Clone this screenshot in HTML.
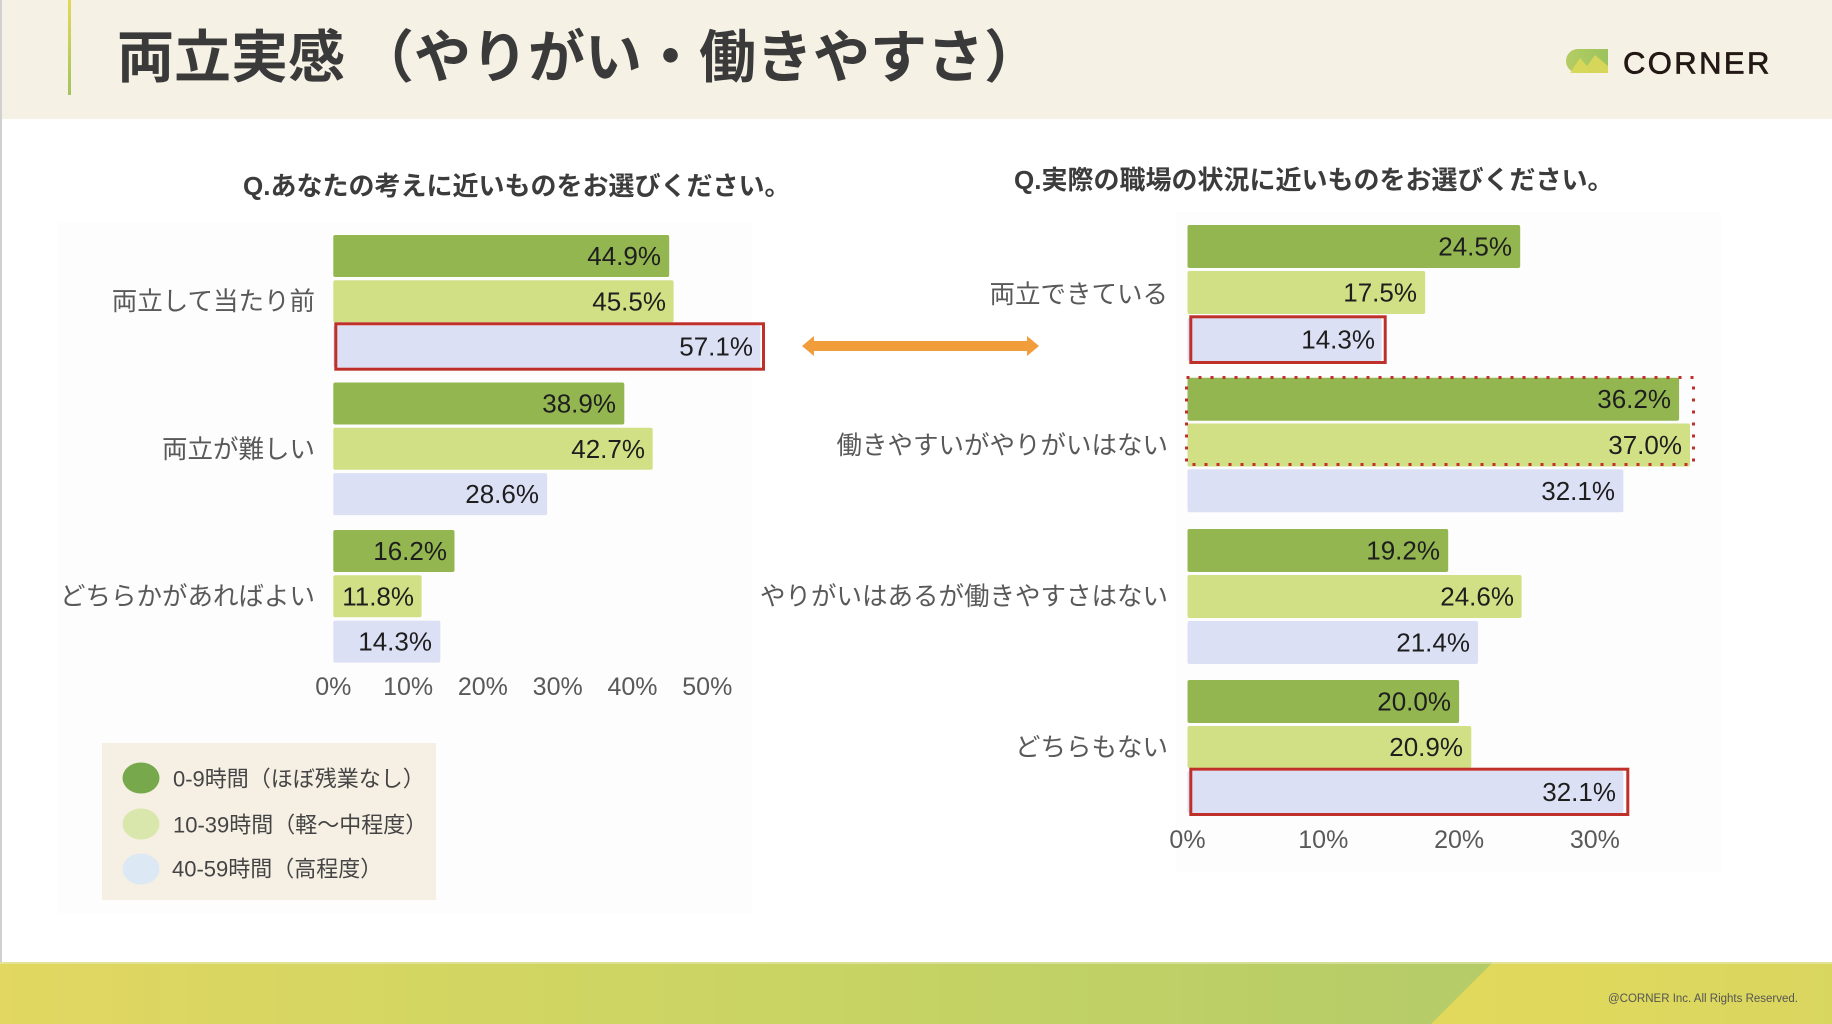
<!DOCTYPE html>
<html>
<head>
<meta charset="utf-8">
<style>
  html, body { margin:0; padding:0; background:#ffffff; }
  body { width:1832px; height:1024px; overflow:hidden; position:relative; }
  svg { position:absolute; left:0; top:0; }
  text { font-family: "Liberation Sans", "Noto Sans CJK JP", sans-serif; }
  .cat { font-size:25.5px; fill:#595959; }
  .val { font-size:26px; fill:#1e1e1e; }
  .tick { font-size:25px; fill:#595959; }
  .q { font-size:26px; font-weight:bold; fill:#3c3c3c; }
  .leg { font-size:22px; fill:#444444; }
</style>
</head>
<body>
<svg width="1832" height="1024" viewBox="0 0 1832 1024" xmlns="http://www.w3.org/2000/svg">
  <defs>
    <linearGradient id="vbar" x1="0" y1="0" x2="0" y2="1">
      <stop offset="0" stop-color="#e3d95a"/>
      <stop offset="1" stop-color="#a3c45e"/>
    </linearGradient>
    <linearGradient id="foot" x1="0" y1="0" x2="1" y2="0">
      <stop offset="0" stop-color="#e1d761"/>
      <stop offset="0.45" stop-color="#c8d463"/>
      <stop offset="1" stop-color="#aac76b"/>
    </linearGradient>
    <linearGradient id="foot2" x1="0" y1="0" x2="1" y2="0">
      <stop offset="0" stop-color="#e2d95c"/>
      <stop offset="1" stop-color="#d9d65f"/>
    </linearGradient>
    <linearGradient id="logo" x1="0" y1="0" x2="1" y2="0">
      <stop offset="0" stop-color="#b4cd62"/>
      <stop offset="1" stop-color="#9cc35e"/>
    </linearGradient>
  </defs>

  <!-- header -->
  <rect x="0" y="0" width="1832" height="119" fill="#f6f1e5"/>
  <rect x="68" y="0" width="3" height="95" fill="url(#vbar)"/>
  <text x="117" y="58" dominant-baseline="central" style="font-size:57px;font-weight:bold;fill:#3a3a3a;">両立実感<tspan dx="12">（やりがい・働きやすさ）</tspan></text>

  <!-- logo -->
  <path d="M1578 49 H1608 V73 H1578 A12 12 0 0 1 1566 61 A12 12 0 0 1 1578 49 Z" fill="url(#logo)"/>
  <path d="M1570 73 L1580 58 L1587 66 L1595 55 L1608 66 V73 Z" fill="#dcd85a" opacity="0.9"/>
  <text x="1623" y="73.3" style="font-size:31px;fill:#231815;letter-spacing:2.4px;stroke:#231815;stroke-width:0.7px;">CORNER</text>

  <!-- left page border -->
  <rect x="0" y="0" width="2" height="962" fill="#d0d0d0"/>

  <!-- chart backgrounds -->
  <rect x="57" y="223" width="695" height="690" fill="#fdfdfd"/>
  <rect x="1176" y="212" width="545" height="660" fill="#fdfdfd"/>

  <!-- LEFT CHART -->
  <text x="243" y="186" dominant-baseline="central" class="q">Q.あなたの考えに近いものをお選びください。</text>

  <text x="315" y="302" dominant-baseline="central" text-anchor="end" class="cat">両立して当たり前</text>
  <text x="315" y="450" dominant-baseline="central" text-anchor="end" class="cat">両立が難しい</text>
  <text x="315" y="597" dominant-baseline="central" text-anchor="end" class="cat">どちらかがあればよい</text>

  <!-- G1 -->
  <rect x="333.3" y="235" width="335.9" height="42" rx="2" fill="#93b650"/>
  <rect x="333.3" y="280.3" width="340.3" height="42" rx="2" fill="#d2e085"/>
  <rect x="333.3" y="325.6" width="427.1" height="42" rx="2" fill="#dce0f5"/>
  <rect x="335.8" y="323.8" width="427.7" height="45.4" fill="none" stroke="#c0302a" stroke-width="3"/>
  <text x="661" y="256" dominant-baseline="central" text-anchor="end" class="val">44.9%</text>
  <text x="666" y="301.3" dominant-baseline="central" text-anchor="end" class="val">45.5%</text>
  <text x="753" y="346.6" dominant-baseline="central" text-anchor="end" class="val">57.1%</text>
  <!-- G2 -->
  <rect x="333.3" y="382.5" width="291.0" height="42" rx="2" fill="#93b650"/>
  <rect x="333.3" y="427.8" width="319.4" height="42" rx="2" fill="#d2e085"/>
  <rect x="333.3" y="473.1" width="213.9" height="42" rx="2" fill="#dce0f5"/>
  <text x="616" y="403.5" dominant-baseline="central" text-anchor="end" class="val">38.9%</text>
  <text x="645" y="448.8" dominant-baseline="central" text-anchor="end" class="val">42.7%</text>
  <text x="539" y="494.1" dominant-baseline="central" text-anchor="end" class="val">28.6%</text>
  <!-- G3 -->
  <rect x="333.3" y="530" width="121.2" height="42" rx="2" fill="#93b650"/>
  <rect x="333.3" y="575.3" width="88.3" height="42" rx="2" fill="#d2e085"/>
  <rect x="333.3" y="620.6" width="107.0" height="42" rx="2" fill="#dce0f5"/>
  <text x="447" y="551" dominant-baseline="central" text-anchor="end" class="val">16.2%</text>
  <text x="414" y="596.3" dominant-baseline="central" text-anchor="end" class="val">11.8%</text>
  <text x="432" y="641.6" dominant-baseline="central" text-anchor="end" class="val">14.3%</text>

  <!-- left ticks -->
  <text x="333.3" y="687" dominant-baseline="central" text-anchor="middle" class="tick">0%</text>
  <text x="408.1" y="687" dominant-baseline="central" text-anchor="middle" class="tick">10%</text>
  <text x="482.9" y="687" dominant-baseline="central" text-anchor="middle" class="tick">20%</text>
  <text x="557.7" y="687" dominant-baseline="central" text-anchor="middle" class="tick">30%</text>
  <text x="632.5" y="687" dominant-baseline="central" text-anchor="middle" class="tick">40%</text>
  <text x="707.3" y="687" dominant-baseline="central" text-anchor="middle" class="tick">50%</text>

  <!-- legend -->
  <rect x="102" y="743" width="334" height="157" fill="#f6f0e4"/>
  <ellipse cx="141" cy="778" rx="18.5" ry="15.5" fill="#78a84c"/>
  <ellipse cx="141" cy="824" rx="18.5" ry="15.5" fill="#d9e6ac"/>
  <ellipse cx="141" cy="869" rx="18.5" ry="15.5" fill="#dce8f4"/>
  <text x="173" y="779" dominant-baseline="central" class="leg">0-9時間（ほぼ残業なし）</text>
  <text x="173" y="825" dominant-baseline="central" class="leg">10-39時間（軽～中程度）</text>
  <text x="172" y="869" dominant-baseline="central" class="leg">40-59時間（高程度）</text>

  <!-- arrow -->
  <rect x="812" y="341" width="217" height="10" fill="#f29d3c"/>
  <polygon points="802,346 814,336 814,356" fill="#f29d3c"/>
  <polygon points="1039,346 1027,336 1027,356" fill="#f29d3c"/>

  <!-- RIGHT CHART -->
  <text x="1014" y="180" dominant-baseline="central" class="q">Q.実際の職場の状況に近いものをお選びください。</text>

  <text x="1168" y="295" dominant-baseline="central" text-anchor="end" class="cat">両立できている</text>
  <text x="1168" y="446" dominant-baseline="central" text-anchor="end" class="cat">働きやすいがやりがいはない</text>
  <text x="1168" y="597" dominant-baseline="central" text-anchor="end" class="cat">やりがいはあるが働きやすさはない</text>
  <text x="1168" y="748" dominant-baseline="central" text-anchor="end" class="cat">どちらもない</text>

  <!-- G1 -->
  <rect x="1187.5" y="225" width="332.7" height="43" rx="2" fill="#93b650"/>
  <rect x="1187.5" y="271" width="237.7" height="43" rx="2" fill="#d2e085"/>
  <rect x="1187.5" y="318" width="194.2" height="43" rx="2" fill="#dce0f5"/>
  <rect x="1190.8" y="316.8" width="194.4" height="45.7" fill="none" stroke="#c0302a" stroke-width="3"/>
  <text x="1512" y="246.5" dominant-baseline="central" text-anchor="end" class="val">24.5%</text>
  <text x="1417" y="292.5" dominant-baseline="central" text-anchor="end" class="val">17.5%</text>
  <text x="1375" y="339.5" dominant-baseline="central" text-anchor="end" class="val">14.3%</text>
  <!-- G2 -->
  <rect x="1187.5" y="377.7" width="491.6" height="43" rx="2" fill="#93b650"/>
  <rect x="1187.5" y="423.5" width="502.5" height="43" rx="2" fill="#d2e085"/>
  <rect x="1187.5" y="469.3" width="435.9" height="43" rx="2" fill="#dce0f5"/>
  <rect x="1186.5" y="377.5" width="507" height="87" fill="none" stroke="#c0302a" stroke-width="3" stroke-dasharray="3,9"/>
  <text x="1671" y="399.2" dominant-baseline="central" text-anchor="end" class="val">36.2%</text>
  <text x="1682" y="445" dominant-baseline="central" text-anchor="end" class="val">37.0%</text>
  <text x="1615" y="490.8" dominant-baseline="central" text-anchor="end" class="val">32.1%</text>
  <!-- G3 -->
  <rect x="1187.5" y="529" width="260.7" height="43" rx="2" fill="#93b650"/>
  <rect x="1187.5" y="575" width="334.1" height="43" rx="2" fill="#d2e085"/>
  <rect x="1187.5" y="621" width="290.6" height="43" rx="2" fill="#dce0f5"/>
  <text x="1440" y="550.5" dominant-baseline="central" text-anchor="end" class="val">19.2%</text>
  <text x="1514" y="596.5" dominant-baseline="central" text-anchor="end" class="val">24.6%</text>
  <text x="1470" y="642.5" dominant-baseline="central" text-anchor="end" class="val">21.4%</text>
  <!-- G4 -->
  <rect x="1187.5" y="680" width="271.6" height="43" rx="2" fill="#93b650"/>
  <rect x="1187.5" y="726" width="283.8" height="42" rx="2" fill="#d2e085"/>
  <rect x="1187.5" y="771" width="435.9" height="42" rx="2" fill="#dce0f5"/>
  <rect x="1190.8" y="769.2" width="437" height="45.3" fill="none" stroke="#c0302a" stroke-width="3"/>
  <text x="1451" y="701.5" dominant-baseline="central" text-anchor="end" class="val">20.0%</text>
  <text x="1463" y="747" dominant-baseline="central" text-anchor="end" class="val">20.9%</text>
  <text x="1616" y="792" dominant-baseline="central" text-anchor="end" class="val">32.1%</text>

  <!-- right ticks -->
  <text x="1187.5" y="840" dominant-baseline="central" text-anchor="middle" class="tick">0%</text>
  <text x="1323.3" y="840" dominant-baseline="central" text-anchor="middle" class="tick">10%</text>
  <text x="1459.1" y="840" dominant-baseline="central" text-anchor="middle" class="tick">20%</text>
  <text x="1594.9" y="840" dominant-baseline="central" text-anchor="middle" class="tick">30%</text>

  <!-- footer -->
  <rect x="0" y="962" width="1832" height="62" fill="url(#foot)"/>
  <polygon points="1493,962 1832,962 1832,1024 1431,1024" fill="url(#foot2)"/>
  <rect x="0" y="962" width="1832" height="2" fill="#e6e9b8" opacity="0.6"/>
  <text x="1608" y="999" dominant-baseline="central" style="font-size:11.5px;fill:#555555;">@CORNER Inc. All Rights Reserved.</text>
</svg>
</body>
</html>
